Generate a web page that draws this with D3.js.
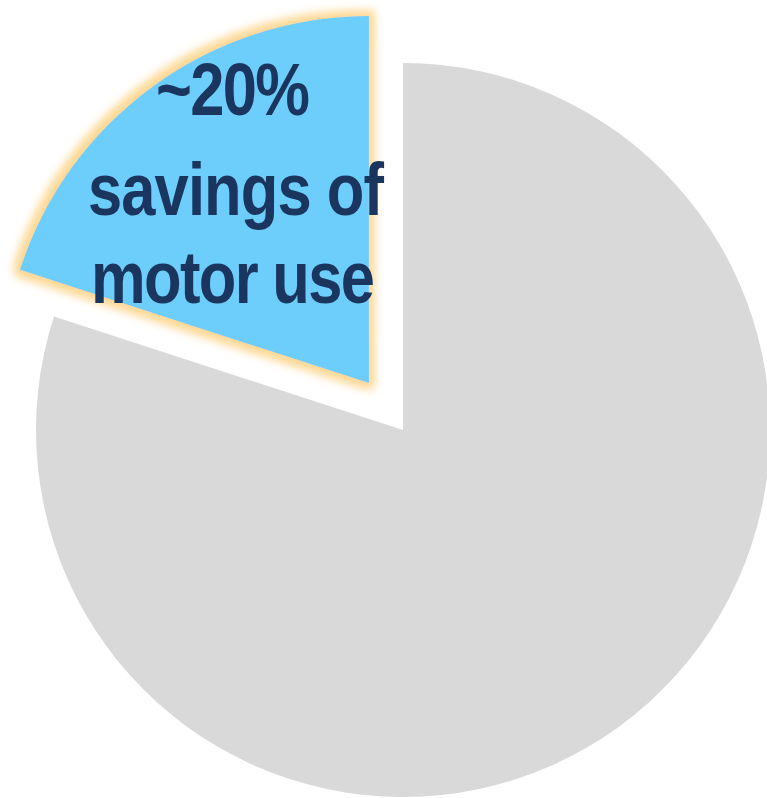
<!DOCTYPE html>
<html>
<head>
<meta charset="utf-8">
<script src="https://cdn.jsdelivr.net/npm/d3@7/dist/d3.min.js"></script>
<style>
  html, body { margin: 0; padding: 0; background: #ffffff; }
  svg { display: block; }
</style>
</head>
<body>
<svg id="chart" width="767" height="798"></svg>
<script>
// Share of motor energy use
const categories = ["Remaining motor use", "Savings"];
const values = [80, 20];
const colors = ["#d9d9d9", "#6dcdfb"];
const explode = [0, 58];
const labelLines = ["~20%", "savings of", "motor use"];

const width = 767, height = 798;
const cx = 403, cy = 430, radius = 367;

const svg = d3.select("#chart");

// soft glow around the highlighted slice
const defs = svg.append("defs");
const glow = defs.append("filter")
  .attr("id", "glow")
  .attr("x", "-20%").attr("y", "-20%")
  .attr("width", "140%").attr("height", "140%");
glow.append("feMorphology")
  .attr("in", "SourceAlpha").attr("operator", "dilate").attr("radius", 6)
  .attr("result", "grown");
glow.append("feGaussianBlur")
  .attr("in", "grown").attr("stdDeviation", 4.5).attr("result", "blurred");
glow.append("feFlood").attr("flood-color", "#fdd894").attr("result", "col");
glow.append("feComposite")
  .attr("in", "col").attr("in2", "blurred").attr("operator", "in")
  .attr("result", "halo");
const merge = glow.append("feMerge");
merge.append("feMergeNode").attr("in", "halo");
merge.append("feMergeNode").attr("in", "SourceGraphic");

const pie = d3.pie().sort(null).startAngle(0).endAngle(2 * Math.PI);
const arcs = pie(values);
const arc = d3.arc().innerRadius(0).outerRadius(radius);

const g = svg.append("g").attr("transform", `translate(${cx},${cy})`);

const slices = g.selectAll("g.slice")
  .data(arcs)
  .join("g")
  .attr("class", "slice")
  .attr("transform", (d, i) => {
    const mid = (d.startAngle + d.endAngle) / 2;
    const dx = Math.sin(mid) * explode[i];
    const dy = -Math.cos(mid) * explode[i];
    return `translate(${dx},${dy})`;
  });

slices.append("path")
  .attr("d", arc)
  .attr("fill", (d, i) => colors[i])
  .attr("filter", (d, i) => i === 1 ? "url(#glow)" : null);

// label inside the savings slice, set slightly condensed
const xScale = 0.82;
const baselines = [115, 215, 303];
const centers = [233, 236, 233];
const lineWidths = [154, 296, 284];
const label = svg.append("g");
labelLines.forEach((t, i) => {
  label.append("text")
    .attr("transform", `translate(${centers[i]},${baselines[i]}) scale(${xScale},1)`)
    .attr("text-anchor", "middle")
    .attr("font-family", "'Liberation Sans', Arial, sans-serif")
    .attr("font-weight", "bold")
    .attr("font-size", 75)
    .attr("fill", "#1a365e")
    .attr("textLength", lineWidths[i] / xScale)
    .attr("lengthAdjust", "spacing")
    .text(t);
});
</script>
</body>
</html>
